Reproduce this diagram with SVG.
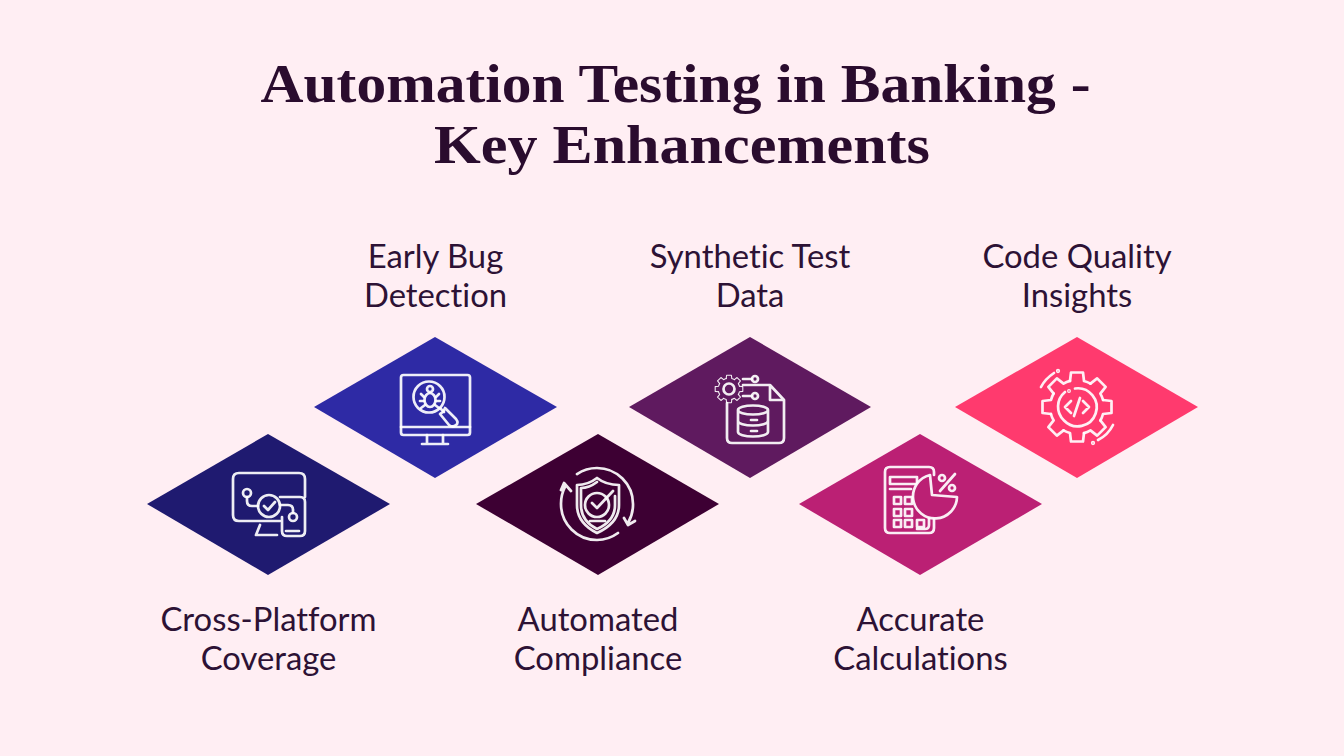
<svg xmlns="http://www.w3.org/2000/svg" xmlns:xlink="http://www.w3.org/1999/xlink" width="1344" height="756" viewBox="0 0 1344 756">
<style>
.t{font-family:"Liberation Serif",serif;font-weight:700;font-size:54px;fill:#2a0c2e;text-anchor:middle}
.l{font-family:Lato,"Liberation Sans",sans-serif;font-size:32.8px;fill:#2d1235;text-anchor:middle;font-variant-ligatures:none}
.i{fill:none;stroke:#fff;stroke-opacity:.92;stroke-width:2.7;stroke-linecap:round;stroke-linejoin:round}
.i *{vector-effect:non-scaling-stroke}
</style>
<defs>
<path id="tooth" d="M-7,-26 L-6,-34.5 L6,-34.5 L7,-26 A27 27 0 0 1 13.5,-23.400"/>
<g id="gear">
<use xlink:href="#tooth" href="#tooth"/>
<use xlink:href="#tooth" href="#tooth" transform="rotate(45)"/>
<use xlink:href="#tooth" href="#tooth" transform="rotate(90)"/>
<use xlink:href="#tooth" href="#tooth" transform="rotate(135)"/>
<use xlink:href="#tooth" href="#tooth" transform="rotate(180)"/>
<use xlink:href="#tooth" href="#tooth" transform="rotate(225)"/>
<use xlink:href="#tooth" href="#tooth" transform="rotate(270)"/>
<use xlink:href="#tooth" href="#tooth" transform="rotate(315)"/>
</g>
</defs>
<rect width="1344" height="756" fill="#ffeef3"/>
<g id="title">
<text class="t" x="675.5" y="102" textLength="830" lengthAdjust="spacingAndGlyphs">Automation Testing in Banking -</text>
<text class="t" x="682" y="163" textLength="496" lengthAdjust="spacingAndGlyphs">Key Enhancements</text>
</g>
<g id="connectors"></g>
<g id="node-cross-platform">
<polygon points="147,504 268,434 390,504 268,575" fill="#1f1a70"/>
<g class="i">
<path d="M305,497V479Q305,473 299,473H239Q233,473 233,479V515Q233,521 239,521H280M260,525L256,535H277"/>
<circle cx="269" cy="506" r="11" fill="#1f1a70"/>
<path d="M264,506L268,510L275,502"/>
<path d="M280,497H300Q305,497 305,502V531Q305,536 300,536H287Q282,536 282,531V517"/>
<path d="M286,531H299"/>
<circle cx="247" cy="493" r="4"/>
<path d="M247,497V501Q247,506 252,506H258"/>
<circle cx="293" cy="517" r="4"/>
<path d="M280,505H288Q293,505 293,510V513"/>
</g>
</g>
<g id="node-early-bug">
<polygon points="314,407 435,337 557,407 435,478" fill="#2e2aa5"/>
<g class="i">
<rect x="401" y="375" width="69" height="60" rx="2.5"/>
<path d="M401,427H470M427,435V444M443,435V444M422,444H448"/>
<circle cx="429" cy="397" r="15.500"/>
<path d="M440,408L444,412"/>
<path d="M445,408L456,419Q459,423 456,425Q453,428 449,425L440,414Q444,412 445,408Z"/>
<ellipse cx="430" cy="400" rx="5.500" ry="7"/>
<circle cx="430" cy="389" r="3"/>
<path d="M424,397L421,394M436,397L439,394M424,401H420M436,401H440M425,405L421,408M435,405L439,408"/>
</g>
</g>
<g id="node-automated">
<polygon points="476,504 598,434 719,504 598,575" fill="#3d0033"/>
<g class="i">
<path d="M597,478Q588,485 577,485V505Q577,523 597,533Q619,523 619,505V485Q606,485 597,478Z"/>
<path d="M597,482Q589,488 581,488V505Q581,521 597,529Q615,521 615,505V496"/>
<circle cx="597" cy="505" r="12" fill="#3d0033"/>
<path d="M592,503L597,508L613,491M590,521H605"/>
<path d="M577,474A36 36 0 0 1 597,468A36 36 0 0 1 633,504A36 36 0 0 1 628,523M624,518L628,525L635,521"/>
<path d="M618,533A36 36 0 0 1 597,540A36 36 0 0 1 561,504A36 36 0 0 1 565,487M561,490L564,483L571,491"/>
</g>
</g>
<g id="node-synthetic">
<polygon points="629,407 750,337 871,407 750,478" fill="#5f1a5f"/>
<g class="i">
<use xlink:href="#gear" href="#gear" transform="translate(729,389) scale(.4)"/>
<circle cx="729" cy="389" r="5.500"/>
<path d="M727,403V438Q727,443 732,443H779Q784,443 784,438V400L770,385H743M770,386V400H783"/>
<path d="M743,379H752M743,396H752"/>
<circle cx="755" cy="379" r="3"/>
<circle cx="755" cy="396" r="3"/>
<path d="M738,410A15 4.500 0 0 1 768,410V432A15 4.500 0 0 1 738,432ZM738,410A15 4.500 0 0 0 768,410M738,421A15 4.500 0 0 0 768,421M751,420H757M751,431H757"/>
</g>
</g>
<g id="node-accurate">
<polygon points="799,504 920,434 1042,504 920,575" fill="#bb2074"/>
<g class="i">
<path d="M934,475V472Q934,467 929,467H890Q885,467 885,472V528Q885,533 890,533H929Q934,533 934,528V518"/>
<path d="M917,529H925Q929,529 929,525V518"/>
<path d="M890,477H917V484H890ZM890,489H911"/>
<path d="M930,475A22 22 0 1 0 957,497L932,495Z" fill="#bb2074"/>
<rect x="894" y="497" width="7" height="7"/>
<rect x="905" y="497" width="7" height="7"/>
<rect x="894" y="509" width="7" height="7"/>
<rect x="905" y="509" width="7" height="7"/>
<rect x="894" y="520" width="7" height="7"/>
<rect x="905" y="520" width="7" height="7"/>
<rect x="917" y="520" width="7" height="7"/>
<path d="M940,491L955,474"/>
<circle cx="942" cy="478" r="3"/>
<circle cx="952" cy="488" r="3"/>
</g>
</g>
<g id="node-code-quality">
<polygon points="955,407 1077,337 1198,407 1077,478" fill="#ff3a6e"/>
<g class="i">
<use xlink:href="#gear" href="#gear" transform="translate(1077,407)"/>
<path d="M1075,388.500A19 19 0 1 1 1064,420.500A19 19 0 0 1 1065,392"/>
<circle cx="1069" cy="391" r=".6"/>
<path d="M1071,401L1065,407L1071,413M1083,401L1089,407L1083,413M1080,398L1074,416"/>
<path d="M1041,387Q1045,379 1054,373M1098,440Q1108,435 1113,425"/>
<circle cx="1058" cy="371" r=".8"/>
<circle cx="1093" cy="443" r=".8"/>
</g>
</g>
<g id="labels">
<text class="l" x="435.500" y="268">Early Bug</text>
<text class="l" x="435.500" y="307">Detection</text>
<text class="l" x="750" y="268">Synthetic Test</text>
<text class="l" x="750" y="307">Data</text>
<text class="l" x="1077" y="268">Code Quality</text>
<text class="l" x="1077" y="307">Insights</text>
<text class="l" x="268.500" y="631">Cross-Platform</text>
<text class="l" x="268.500" y="670">Coverage</text>
<text class="l" x="598" y="631">Automated</text>
<text class="l" x="598" y="670">Compliance</text>
<text class="l" x="920.500" y="631">Accurate</text>
<text class="l" x="920.500" y="670">Calculations</text>
</g>
</svg>
